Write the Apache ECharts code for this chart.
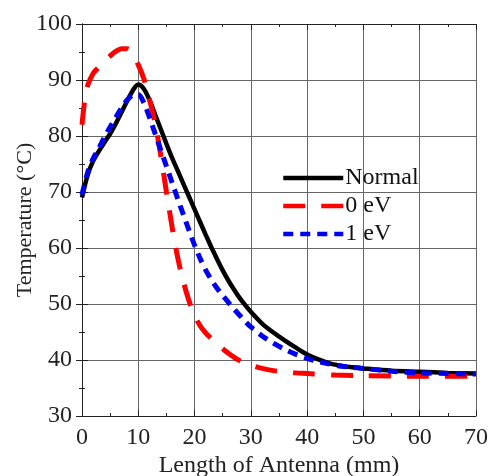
<!DOCTYPE html>
<html>
<head>
<meta charset="utf-8">
<script src="https://cdn.jsdelivr.net/npm/echarts@6/dist/echarts.min.js"></script>
<style>
  html, body { margin: 0; padding: 0; background: #fff; }
  #chart { width: 489px; height: 476px; }
</style>
</head>
<body>
<div id="chart"></div>
<script>
// values
const normalX = [0, 1, 2, 3, 4, 5, 6, 7, 8, 9, 10, 11, 12, 13, 14, 15, 16, 17, 18, 19, 20, 21, 22, 23, 24, 25, 26, 27, 28, 29, 30, 32, 34, 36, 38, 40, 42, 44, 46, 48, 50, 55, 60, 65, 70];
const normalY = [69, 73, 75.6, 77.3, 78.9, 80.4, 82.2, 84.2, 86.2, 88.1, 89.2, 88.4, 86.4, 83.8, 81.2, 78.6, 76.1, 73.8, 71.5, 69.2, 66.9, 64.6, 62.3, 60.1, 58, 56, 54.2, 52.6, 51.1, 49.8, 48.6, 46.5, 44.9, 43.5, 42.2, 41, 40.1, 39.4, 39, 38.7, 38.5, 38.1, 37.9, 37.7, 37.6];

const zeroX = [0, 0.5, 1, 2, 3, 4, 5, 6, 7, 8, 9, 10, 11, 12, 13, 14, 15, 16, 17, 18, 19, 20, 21, 22, 23, 24, 25, 26, 27, 28, 30, 32, 34, 36, 38, 40, 45, 50, 60, 70];
const zeroY = [82, 86.5, 89, 91.2, 92.3, 93.3, 94.3, 95.1, 95.6, 95.6, 94.6, 92.7, 90.2, 86.5, 82.2, 76.5, 70, 63.8, 58.3, 54, 50.6, 47.9, 46.1, 44.8, 43.8, 42.8, 42, 41.2, 40.5, 39.9, 39.1, 38.5, 38.1, 37.9, 37.7, 37.6, 37.3, 37.2, 37.1, 37.1];

const oneX = [0, 1, 2, 3, 4, 5, 6, 7, 8, 9, 10, 11, 12, 13, 14, 15, 16, 17, 18, 19, 20, 21, 22, 23, 24, 25, 26, 27, 28, 29, 30, 32, 34, 36, 38, 40, 42, 44, 46, 48, 50, 55, 60, 65, 70];
const oneY = [69.5, 73.5, 76, 77.8, 79.8, 81.6, 83.3, 85, 86.4, 87.3, 87.4, 85.9, 83.3, 80.4, 77.5, 74.6, 71.7, 68.8, 66, 63.2, 60.5, 58.1, 56, 54.3, 52.8, 51.5, 50.3, 49.1, 48, 46.9, 45.9, 44.3, 43, 41.9, 41, 40.3, 39.7, 39.3, 38.9, 38.7, 38.5, 38, 37.7, 37.6, 37.5];

const seriesNames = ['Normal', '0 eV', '1 eV'];

const zip = (xs, ys) => xs.map((x, i) => [x, ys[i]]);

const font = '"Liberation Serif", "DejaVu Serif", serif';
const chart = echarts.init(document.getElementById('chart'));

const tickStyle = { inside: true, length: 6, lineStyle: { color: '#222', width: 1 } };
const minorStyle = { show: true, splitNumber: 2, length: 3, lineStyle: { color: '#222', width: 1 } };

chart.setOption({
  animation: false,
  grid: { left: 82, right: 13, top: 24, bottom: 60, outerBoundsMode: 'none' },
  legend: {
    data: seriesNames,
    orient: 'vertical',
    left: 276,
    top: 161,
    itemWidth: 60,
    itemHeight: 14,
    itemGap: 4,
    itemStyle: { opacity: 0 },
    lineStyle: { width: 4.5 },
    textStyle: { fontFamily: font, fontSize: 24, color: '#111', padding: [0, 0, 0, -3] }
  },
  xAxis: [{
    type: 'value', min: 0, max: 70, interval: 10,
    name: 'Length of Antenna (mm)', nameLocation: 'middle', nameGap: 38, nameMoveOverlap: false,
    nameTextStyle: { fontFamily: font, fontSize: 24, color: '#222' },
    axisLine: { show: true, lineStyle: { color: '#222', width: 1 } },
    axisTick: tickStyle, minorTick: minorStyle,
    axisLabel: { fontFamily: font, fontSize: 24, color: '#222', margin: 10 },
    splitLine: { show: true, lineStyle: { color: '#666', width: 1 } }
  }, {
    type: 'value', min: 0, max: 70, interval: 10, position: 'top',
    axisLine: { show: true, lineStyle: { color: '#222', width: 1 } },
    axisTick: tickStyle, minorTick: minorStyle,
    axisLabel: { show: false }, splitLine: { show: false }
  }],
  yAxis: [{
    type: 'value', min: 30, max: 100, interval: 10,
    name: 'Temperature (°C)', nameLocation: 'middle', nameGap: 46, nameRotate: 90, nameMoveOverlap: false,
    nameTextStyle: { fontFamily: font, fontSize: 22, color: '#222' },
    axisLine: { show: true, lineStyle: { color: '#222', width: 1 } },
    axisTick: tickStyle, minorTick: minorStyle,
    axisLabel: { fontFamily: font, fontSize: 24, color: '#222', margin: 10 },
    splitLine: { show: true, lineStyle: { color: '#666', width: 1 } }
  }, {
    type: 'value', min: 30, max: 100, interval: 10, position: 'right',
    axisLine: { show: true, lineStyle: { color: '#222', width: 1 } },
    axisTick: tickStyle, minorTick: minorStyle,
    axisLabel: { show: false }, splitLine: { show: false }
  }],
  series: [{
    name: seriesNames[0], type: 'line', smooth: 0.3, symbol: 'none',
    data: zip(normalX, normalY),
    lineStyle: { color: '#000', width: 4.5 },
    itemStyle: { color: '#000' }, z: 3
  }, {
    name: seriesNames[1], type: 'line', smooth: 0.3, symbol: 'none',
    data: zip(zeroX, zeroY),
    lineStyle: { color: '#f00', width: 5, type: [22, 16] },
    itemStyle: { color: '#f00' }, z: 4
  }, {
    name: seriesNames[2], type: 'line', smooth: 0.3, symbol: 'none',
    data: zip(oneX, oneY),
    lineStyle: { color: '#0000f0', width: 5, type: [10, 7] },
    itemStyle: { color: '#0000f0' }, z: 5
  }]
});
</script>
</body>
</html>
